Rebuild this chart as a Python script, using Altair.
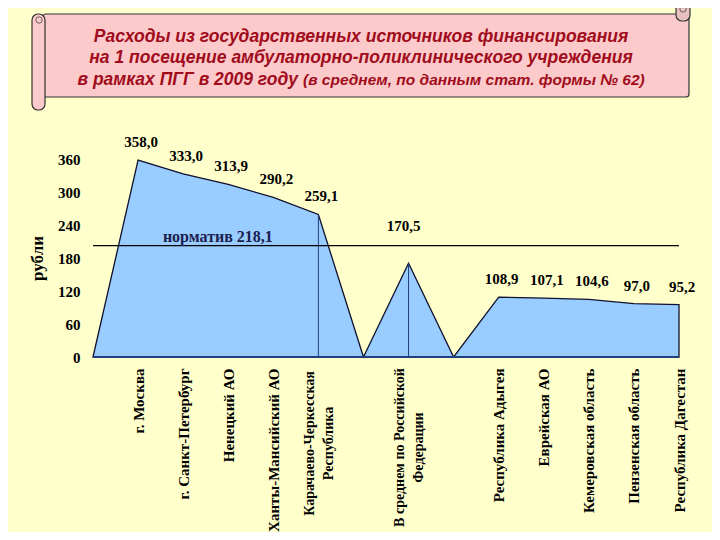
import json
import altair as alt
import pandas as pd

# ---- data ----
categories = ["", "г. Москва", "г. Санкт-Петербург", "Ненецкий АО",
              "Ханты-Мансийский АО", "Карачаево-Черкесская|Республика", "",
              "В среднем по Российской|Федерации", "", "Республика Адыгея",
              "Еврейская АО", "Кемеровская область", "Пензенская область",
              "Республика Дагестан"]
values = [0, 358.0, 333.0, 313.9, 290.2, 259.1, 0, 170.5, 0,
          108.9, 107.1, 104.6, 97.0, 95.2]
drop_line_idx = [5, 7]
norm_value = 218.1          # value printed in the label
norm_line_level = 202.5     # level where the line is drawn in the picture
y_ticks = [0, 60, 120, 180, 240, 300, 360]

title_line1 = "Расходы из государственных источников финансирования"
title_line2 = "на 1  посещение амбулаторно-поликлинического учреждения"
title_line3a = "в рамках ПГГ в 2009 году"
title_line3b = "(в среднем, по данным стат. формы № 62)"

idx = list(range(len(values)))
df = pd.DataFrame({
    "idx": idx,
    "value": values,
    "label": ["" if categories[i] == "" else f"{v:.1f}".replace(".", ",")
              for i, v in enumerate(values)],
})
df_lab = df[df["label"] != ""]
df_lab_main = df_lab[df_lab["idx"] != 7]
df_lab_rf = df_lab[df_lab["idx"] == 7]
df_drop = df[df["idx"].isin(drop_line_idx)]
one = pd.DataFrame({"k": [0]})

serif = "Liberation Serif"
sans = "Liberation Sans"

xs = alt.Scale(domain=[0, len(values) - 1], nice=False, zero=False)
ys = alt.Scale(domain=[0, 360], nice=False)

label_expr = "split(" + json.dumps(categories, ensure_ascii=False) + "[datum.value], '|')"
two_line = [i for i, c in enumerate(categories) if "|" in c]
two_test = " || ".join(f"datum.value == {i}" for i in two_line)

x_axis = alt.Axis(
    values=[i for i, c in enumerate(categories) if c != ""],
    labelExpr=label_expr, labelAngle=270,
    labelAlign={"condition": {"test": two_test, "value": "center"}, "value": "right"},
    labelBaseline="middle",
    labelPadding={"condition": [
        {"test": "datum.value == 5", "value": 86},
        {"test": "datum.value == 7", "value": 90}], "value": 11},
    labelOffset={"condition": {"test": two_test, "value": -9}, "value": 0},
    labelFontSize={"condition": {"test": two_test, "value": 14}, "value": 15},
    labelFont=serif, labelFontWeight="bold", labelColor="black",
    labelLineHeight=19, labelOverlap=False, labelLimit=300,
    domain=False, ticks=False, grid=False, title=None)
y_axis = alt.Axis(values=y_ticks, labelFont=serif, labelFontSize=15,
                  labelFontWeight="bold", labelColor="black", labelPadding=13,
                  labelOverlap=False,
                  domain=False, ticks=False, grid=False, title="рубли",
                  titleFont=serif, titleFontSize=17, titleFontWeight="bold",
                  titleColor="black", titlePadding=11)

base = alt.Chart(df)
deco = alt.Chart(one)

area = base.mark_area(fill="#99CCFF", stroke="#101030", strokeWidth=1.3,
                      opacity=1).encode(
    x=alt.X("idx:Q", scale=xs, axis=x_axis),
    y=alt.Y("value:Q", scale=ys, axis=y_axis),
)

baseline = deco.mark_rule(color="#1F3F7F", strokeWidth=2).encode(
    x=alt.datum(0, scale=xs, axis=x_axis), x2=alt.datum(len(values) - 1),
    y=alt.datum(0, scale=ys, axis=y_axis))

drops = alt.Chart(df_drop).mark_rule(color="#1F3F7F", strokeWidth=1).encode(
    x=alt.X("idx:Q", scale=xs, axis=x_axis),
    y=alt.Y("value:Q", scale=ys, axis=y_axis), y2=alt.datum(0))

norm_line = deco.mark_rule(color="black", strokeWidth=1.3).encode(
    x=alt.datum(0, scale=xs, axis=x_axis), x2=alt.datum(len(values) - 1),
    y=alt.datum(norm_line_level, scale=ys, axis=y_axis))

norm_text = deco.mark_text(font=serif, fontSize=16, fontWeight="bold",
                           color="#1A2050").encode(
    x=alt.datum(2.77, scale=xs, axis=x_axis),
    y=alt.datum(norm_value, scale=ys, axis=y_axis),
    text=alt.value("норматив " + f"{norm_value:.1f}".replace(".", ",")))

vlabels = alt.Chart(df_lab_main).mark_text(font=serif, fontSize=15,
                                           fontWeight="bold", color="black",
                                           dy=-18, dx=3).encode(
    x=alt.X("idx:Q", scale=xs, axis=x_axis),
    y=alt.Y("value:Q", scale=ys, axis=y_axis), text="label:N")
vlabels_rf = alt.Chart(df_lab_rf).mark_text(font=serif, fontSize=15,
                                            fontWeight="bold", color="black",
                                            dy=-37, dx=-5).encode(
    x=alt.X("idx:Q", scale=xs, axis=x_axis),
    y=alt.Y("value:Q", scale=ys, axis=y_axis), text="label:N")

# ---- decorative scroll banner (pixel positions relative to plot origin) ----
pink = "#FCCACA"
edge = "#333333"
scroll_body = deco.mark_rect(fill=pink, stroke=edge, strokeWidth=1.2,
                             cornerRadius=3).encode(
    x=alt.value(-50), x2=alt.value(596), y=alt.value(-145), y2=alt.value(-62))
scroll_left = deco.mark_rect(fill=pink, stroke=edge, strokeWidth=1.2,
                             cornerRadius=6).encode(
    x=alt.value(-61), x2=alt.value(-48), y=alt.value(-145), y2=alt.value(-49))
scroll_left_curl = deco.mark_point(shape="circle", size=40, stroke=edge,
                                   strokeWidth=1, filled=False).encode(
    x=alt.value(-54), y=alt.value(-139))
scroll_right = deco.mark_rect(fill="#E8C0C0", stroke=edge, strokeWidth=1.2,
                              cornerRadius=6).encode(
    x=alt.value(583), x2=alt.value(597), y=alt.value(-157), y2=alt.value(-138))
scroll_right_curl = deco.mark_point(shape="circle", size=40, stroke=edge,
                                    strokeWidth=1, filled=False).encode(
    x=alt.value(590), y=alt.value(-150))

tcol = "#A00C1C"
t1 = deco.mark_text(font=sans, fontSize=17.5, fontWeight="bold", fontStyle="italic",
                    color=tcol).encode(x=alt.value(268), y=alt.value(-122),
                                       text=alt.value(title_line1))
t2 = deco.mark_text(font=sans, fontSize=17.5, fontWeight="bold", fontStyle="italic",
                    color=tcol).encode(x=alt.value(268), y=alt.value(-101),
                                       text=alt.value(title_line2))
t3a = deco.mark_text(font=sans, fontSize=17.5, fontWeight="bold", fontStyle="italic",
                     color=tcol, align="right").encode(
    x=alt.value(205), y=alt.value(-79), text=alt.value(title_line3a))
t3b = deco.mark_text(font=sans, fontSize=15.5, fontWeight="bold", fontStyle="italic",
                     color=tcol, align="left").encode(
    x=alt.value(210), y=alt.value(-79), text=alt.value(title_line3b))

chart = alt.layer(
    scroll_body, scroll_left, scroll_left_curl, scroll_right, scroll_right_curl,
    t1, t2, t3a, t3b,
    area, baseline, drops, norm_line, norm_text, vlabels, vlabels_rf,
).properties(
    width=586, height=198,
    autosize=alt.AutoSizeParams(type="none"),
    padding={"left": 85, "top": 151, "right": 33, "bottom": 175},
).configure(background="#FFFFCC").configure_view(stroke=None)

chart.save("out.html", embed_options={"renderer": "svg", "actions": False})
